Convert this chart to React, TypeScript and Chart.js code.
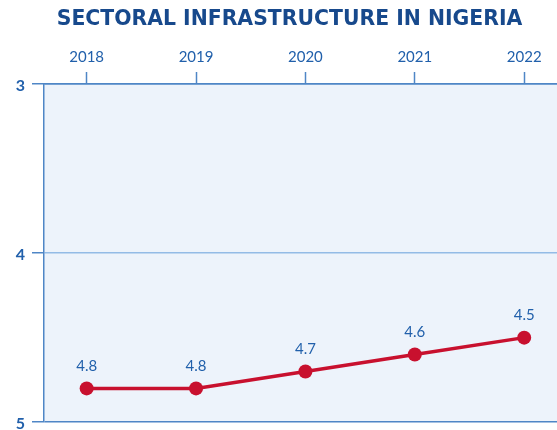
import React, { useEffect, useRef } from "react";
import { Chart, registerables } from "chart.js";

Chart.register(...registerables);

const chartTitle = "SECTORAL INFRASTRUCTURE IN NIGERIA";
const years = [2018, 2019, 2020, 2021, 2022];
const values = [4.8, 4.8, 4.7, 4.6, 4.5];
const yTicks = [3, 4, 5];

const titleBlue = "#17498c";
const textBlue = "#2160ab";
const axisBlue = "#4f86c6";
const gridLight = "#93bbe6";
const plotBg = "#edf3fb";
const lineRed = "#c8102e";

const plotBackground = {
  id: "plotBackground",
  beforeDraw(chart: any) {
    const { ctx, chartArea } = chart;
    ctx.save();
    ctx.fillStyle = plotBg;
    ctx.fillRect(chartArea.left, chartArea.top, chartArea.right - chartArea.left, chartArea.bottom - chartArea.top);
    ctx.restore();
  },
};

// centre the title over the region right of the y-axis labels
const titleShift = {
  id: "titleShift",
  afterLayout(chart: any) {
    if (chart.titleBlock) {
      chart.titleBlock.left = chart.chartArea.left / 2;
    }
  },
};

const valueLabels = {
  id: "valueLabels",
  afterDatasetsDraw(chart: any) {
    const { ctx } = chart;
    const meta = chart.getDatasetMeta(0);
    ctx.save();
    ctx.fillStyle = textBlue;
    ctx.font = "15px Lato";
    ctx.textAlign = "center";
    ctx.textBaseline = "middle";
    meta.data.forEach((pt: any, i: number) => {
      ctx.fillText(values[i].toFixed(1), pt.x, pt.y - 22);
    });
    ctx.restore();
  },
};

export default function App() {
  const ref = useRef<HTMLCanvasElement>(null);

  useEffect(() => {
    document.body.style.margin = "0";
    const canvas = ref.current;
    if (!canvas) return;
    const chart = new Chart(canvas, {
      type: "line",
      data: {
        datasets: [
          {
            data: years.map((y, i) => ({ x: y, y: values[i] })),
            borderColor: lineRed,
            backgroundColor: lineRed,
            borderWidth: 3.5,
            pointRadius: 7,
            pointBorderWidth: 0,
            pointBackgroundColor: lineRed,
            pointBorderColor: lineRed,
            tension: 0,
            clip: false,
          },
        ],
      },
      options: {
        responsive: false,
        animation: false,
        layout: { padding: 0, autoPadding: false },
        plugins: {
          legend: { display: false },
          tooltip: { enabled: false },
          title: {
            display: true,
            text: chartTitle,
            color: titleBlue,
            font: { family: "DejaVu Sans", size: 20.4, weight: "bold" },
            padding: { top: 7, bottom: 0 },
          },
        },
        scales: {
          x: {
            type: "linear",
            position: "top",
            min: 2017.61,
            max: 2022.3,
            afterBuildTicks: (s: any) => {
              s.ticks = years.map((v) => ({ value: v }));
            },
            afterFit: (s: any) => {
              s.height = 52.5;
            },
            ticks: {
              color: textBlue,
              font: { family: "Lato", size: 15 },
              padding: 6,
              callback: (v: any) => String(v),
            },
            grid: {
              drawOnChartArea: false,
              drawTicks: true,
              tickLength: 12,
              tickColor: axisBlue,
              tickWidth: 1.5,
            },
            border: { color: axisBlue, width: 1.5 },
          },
          y: {
            reverse: true,
            min: 3,
            max: 5,
            afterBuildTicks: (s: any) => {
              s.ticks = yTicks.map((v) => ({ value: v }));
            },
            afterFit: (s: any) => {
              s.width = 44;
            },
            ticks: {
              color: textBlue,
              font: { family: "Lato", size: 16, weight: "bold", lineHeight: 0.1 },
              padding: 7,
              labelOffset: 2,
            },
            grid: {
              color: (c: any) => (c.tick && c.tick.value === 4 ? gridLight : axisBlue),
              lineWidth: 1.5,
              tickColor: axisBlue,
              tickLength: 12,
              tickWidth: 1.5,
            },
            border: { color: axisBlue, width: 1.5 },
          },
        },
      },
      plugins: [plotBackground, titleShift, valueLabels],
    });
    return () => chart.destroy();
  }, []);

  return (
    <div style={{ width: 557, height: 430 }}>
      <canvas ref={ref} width={557} height={430} style={{ display: "block" }} />
    </div>
  );
}
